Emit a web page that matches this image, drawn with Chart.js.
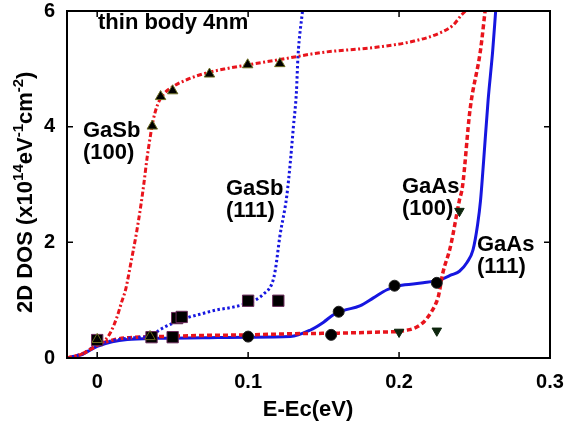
<!DOCTYPE html>
<html>
<head>
<meta charset="utf-8">
<script src="https://cdn.jsdelivr.net/npm/chart.js@4/dist/chart.umd.min.js"></script>
<style>
html, body { margin: 0; padding: 0; background: #fff; }
#caixa { width: 565px; height: 427px; }
</style>
</head>
<body>
<div id="caixa"><canvas id="graficoDOS"></canvas></div>
<script>
// curvas (E-Ec em eV, DOS em 1e14 eV-1 cm-2)
let gasb100_x = [-0.02, -0.01, 0, 0.005, 0.009, 0.013, 0.016, 0.019, 0.022, 0.026, 0.029, 0.031, 0.033, 0.035, 0.037, 0.04, 0.044, 0.05, 0.06, 0.074, 0.087, 0.1, 0.121, 0.148, 0.187, 0.21, 0.227, 0.236, 0.241, 0.244]
let gasb100_y = [0, 0.07, 0.22, 0.3, 0.45, 0.7, 0.95, 1.2, 1.6, 2.16, 2.65, 3.03, 3.45, 3.8, 4.1, 4.38, 4.56, 4.69, 4.82, 4.94, 5.01, 5.07, 5.16, 5.28, 5.38, 5.48, 5.62, 5.76, 5.92, 6.0]

let gasb111_x = [-0.02, -0.01, 0, 0.01, 0.02, 0.03, 0.036, 0.041, 0.05, 0.059, 0.07, 0.079, 0.09, 0.1, 0.106, 0.11, 0.116, 0.118, 0.121, 0.1256, 0.128, 0.13, 0.132, 0.133, 0.136]
let gasb111_y = [0, 0.07, 0.22, 0.3, 0.34, 0.36, 0.38, 0.48, 0.6, 0.69, 0.77, 0.83, 0.88, 0.95, 1.02, 1.1, 1.3, 1.52, 2.1, 2.8, 3.4, 4.0, 4.6, 5.2, 6.0]

let gaas100_x = [-0.02, -0.01, 0, 0.01, 0.02, 0.04, 0.07, 0.1, 0.13, 0.16, 0.19, 0.2, 0.207, 0.212, 0.217, 0.221, 0.224, 0.226, 0.229, 0.234, 0.24, 0.242, 0.247, 0.254, 0.257]
let gaas100_y = [0, 0.07, 0.22, 0.31, 0.35, 0.37, 0.39, 0.4, 0.42, 0.43, 0.45, 0.46, 0.49, 0.54, 0.64, 0.78, 0.92, 1.06, 1.47, 1.92, 2.73, 2.96, 4.29, 5.33, 6.0]

let gaas111_x = [-0.02, -0.01, 0, 0.01, 0.02, 0.04, 0.07, 0.1, 0.128, 0.141, 0.15, 0.156, 0.163, 0.174, 0.183, 0.192, 0.2, 0.216, 0.228, 0.235, 0.24, 0.245, 0.249, 0.252, 0.254, 0.256, 0.259, 0.262, 0.264]
let gaas111_y = [0, 0.06, 0.2, 0.28, 0.32, 0.34, 0.35, 0.36, 0.37, 0.48, 0.62, 0.74, 0.82, 0.9, 1.04, 1.18, 1.25, 1.3, 1.36, 1.44, 1.5, 1.65, 1.87, 2.3, 2.73, 3.4, 4.46, 5.3, 6.0]

// pontos (simbolos)
let triangulos_x = [0, 0.035, 0.0365, 0.042, 0.05, 0.0744, 0.0997, 0.121]
let triangulos_y = [0.32, 0.37, 4.01, 4.52, 4.62, 4.91, 5.07, 5.09]

let quadrados_x = [0, 0.036, 0.05, 0.053, 0.056, 0.1, 0.12]
let quadrados_y = [0.31, 0.36, 0.36, 0.69, 0.71, 0.99, 0.99]

let circulos_x = [0.1, 0.155, 0.16, 0.197, 0.225]
let circulos_y = [0.37, 0.4, 0.8, 1.25, 1.3]

let invertidos_x = [0.2, 0.225, 0.24]
let invertidos_y = [0.45, 0.47, 2.54]

let ticksX = [0, 0.1, 0.2, 0.3]
let ticksY = [0, 2, 4, 6]

let rotulos = [
    { linhas: ["thin body 4nm"], x: 98, y: 29 },
    { linhas: ["GaSb", "(100)"], x: 83, y: 137 },
    { linhas: ["GaSb", "(111)"], x: 226, y: 195 },
    { linhas: ["GaAs", "(100)"], x: 402, y: 193 },
    { linhas: ["GaAs", "(111)"], x: 477, y: 251 }
]

function pares(xs, ys) {
    return xs.map((x, i) => ({ x: x, y: ys[i] }))
}

const fonte = 'Liberation Sans, Arial, sans-serif'
const vermelho = '#e8141c'
const azul = '#1616e0'

function linha(dados, cor, dash, largura) {
    return {
        type: 'line',
        data: dados,
        borderColor: cor,
        backgroundColor: cor,
        borderWidth: largura,
        borderDash: dash,
        pointRadius: 0,
        fill: false,
        cubicInterpolationMode: 'monotone',
        order: 5
    }
}

function simbolos(dados, estilo, raio, cor, borda, rot, ordem) {
    return {
        type: 'scatter',
        data: dados,
        pointStyle: estilo,
        pointRadius: raio,
        pointRotation: rot,
        pointBackgroundColor: cor,
        pointBorderColor: borda,
        pointBorderWidth: 1,
        showLine: false,
        order: ordem
    }
}

// moldura, ticks para dentro, rotulos e titulos dos eixos
const moldura = {
    id: 'moldura',
    afterDraw(chart) {
        let ctx = chart.ctx
        let a = chart.chartArea
        let sx = chart.scales.x
        let sy = chart.scales.y
        ctx.save()
        ctx.strokeStyle = '#000'
        ctx.lineWidth = 2
        ctx.strokeRect(a.left, a.top, a.right - a.left, a.bottom - a.top)
        ctx.lineWidth = 1.5
        ctx.beginPath()
        ticksX.forEach(v => {
            let px = sx.getPixelForValue(v)
            ctx.moveTo(px, a.bottom); ctx.lineTo(px, a.bottom - 6)
            ctx.moveTo(px, a.top); ctx.lineTo(px, a.top + 6)
        })
        ticksY.forEach(v => {
            let py = sy.getPixelForValue(v)
            ctx.moveTo(a.left, py); ctx.lineTo(a.left + 6, py)
            ctx.moveTo(a.right, py); ctx.lineTo(a.right - 6, py)
        })
        ctx.stroke()

        ctx.fillStyle = '#000'
        ctx.font = 'bold 22px ' + fonte
        ctx.textBaseline = 'alphabetic'
        ctx.textAlign = 'left'
        rotulos.forEach(r => {
            r.linhas.forEach((t, i) => ctx.fillText(t, r.x, r.y + i * 22))
        })

        ctx.textAlign = 'center'
        ctx.fillText('E-Ec(eV)', 308, 416)

        // titulo y com expoentes
        let partes = [['2D DOS (x10', 0], ['14', 1], ['eV', 0], ['-1', 1], ['cm', 0], ['-2', 1], [')', 0]]
        ctx.translate(32, 313)
        ctx.rotate(-Math.PI / 2)
        ctx.textAlign = 'left'
        let pos = 0
        partes.forEach(p => {
            ctx.font = p[1] ? 'bold 15px ' + fonte : 'bold 22px ' + fonte
            ctx.fillText(p[0], pos, p[1] ? -9 : 0)
            pos += ctx.measureText(p[0]).width
        })
        ctx.restore()
    }
}

var ctx = document.getElementById('graficoDOS').getContext('2d')
var grafico = new Chart(ctx, {
    data: {
        datasets: [
            linha(pares(gasb100_x, gasb100_y), vermelho, [5, 2.5, 2, 2.5], 3),
            linha(pares(gasb111_x, gasb111_y), azul, [2.5, 2.5], 3),
            linha(pares(gaas100_x, gaas100_y), vermelho, [5, 3], 3.5),
            linha(pares(gaas111_x, gaas111_y), azul, [], 3),
            simbolos(pares(quadrados_x, quadrados_y), 'rect', 8, '#000', '#6a2a5a', 0, 3),
            simbolos(pares(circulos_x, circulos_y), 'circle', 5.5, '#000', '#222', 0, 2),
            simbolos(pares(invertidos_x, invertidos_y), 'triangle', 5.5, '#0d250d', '#0d250d', 180, 1),
            simbolos(pares(triangulos_x, triangulos_y), 'triangle', 6, '#000', '#6b6b20', 0, 0)
        ]
    },
    options: {
        responsive: true,
        maintainAspectRatio: false,
        animation: false,
        layout: { padding: { top: 11, right: 15, left: 0, bottom: 0 } },
        plugins: {
            legend: { display: false },
            tooltip: { enabled: false }
        },
        scales: {
            x: {
                type: 'linear',
                min: -0.02,
                max: 0.3,
                grid: { display: false, drawTicks: false },
                border: { display: false },
                ticks: {
                    stepSize: 0.1,
                    padding: 12,
                    color: '#000',
                    font: { family: fonte, weight: 'bold', size: 20 }
                },
                afterBuildTicks(scale) {
                    scale.ticks = ticksX.map(v => ({ value: v }))
                },
                afterFit(scale) {
                    scale.height = 69
                    scale.paddingLeft = 0
                    scale.paddingRight = 0
                }
            },
            y: {
                type: 'linear',
                min: 0,
                max: 6,
                grid: { display: false, drawTicks: false },
                border: { display: false },
                ticks: {
                    stepSize: 2,
                    padding: 12,
                    color: '#000',
                    font: { family: fonte, weight: 'bold', size: 20 }
                },
                afterBuildTicks(scale) {
                    scale.ticks = ticksY.map(v => ({ value: v }))
                },
                afterFit(scale) {
                    scale.width = 67
                    scale.paddingTop = 0
                    scale.paddingBottom = 0
                }
            }
        }
    },
    plugins: [moldura]
})
</script>
</body>
</html>
